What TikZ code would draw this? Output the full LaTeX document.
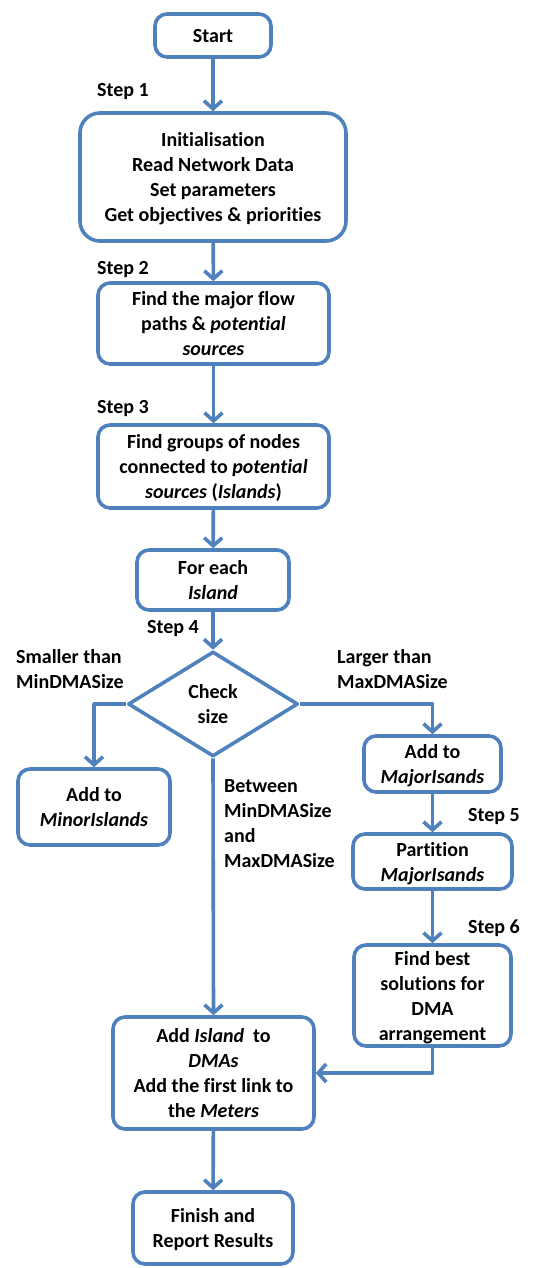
\documentclass[tikz,border=0pt]{standalone}
\usepackage{fontspec}
\setmainfont{Carlito}[Ligatures=NoCommon]
\usepackage{tikz}
\usetikzlibrary{arrows.meta,shapes.geometric}

\definecolor{flowblue}{RGB}{79,129,189}

\tikzset{
  box/.style={draw=flowblue,line width=3.6pt,rounded corners=12pt,fill=white,
    align=center,inner sep=0pt,text depth=0pt,font=\bfseries\fontsize{20}{25}\selectfont},
  bigbox/.style={box,rounded corners=20pt},
  decision/.style={draw=flowblue,line width=3.6pt,diamond,inner sep=0pt,
    minimum width=170pt,minimum height=105pt,align=center,text depth=0pt,
    font=\bfseries\fontsize{20}{25}\selectfont},
  lbl/.style={anchor=west,align=left,inner sep=0pt,
    font=\bfseries\fontsize{20}{25}\selectfont},
  flow/.style={draw=flowblue,line width=3.6pt,-{Straight Barb[length=8pt,width=18pt]}}
}

\begin{document}
\begin{tikzpicture}[x=1pt,y=-1pt,line join=round]
      \useasboundingbox (0,0) rectangle (544,1268);

      \node[box,minimum width=116,minimum height=43] (start) at (213,35.5) {Start};
      \node[bigbox,minimum width=266,minimum height=128] (init) at (213,177)
        {Initialisation\\Read Network Data\\Set parameters\\Get objectives \& priorities};
      \node[box,minimum width=231,minimum height=81] (paths) at (213.5,323.5)
        {Find the major flow\\paths \& \textit{potential}\\\textit{sources}};
      \node[box,minimum width=231,minimum height=83] (groups) at (213.5,466.5)
        {Find groups of nodes\\connected to \textit{potential}\\\textit{sources} (\textit{Islands})};
      \node[box,minimum width=152,minimum height=60] (each) at (213,580)
        {For each\\\textit{Island}};
      \node[decision] (check) at (213,704) {Check\\size};
      \node[box,minimum width=152,minimum height=76] (minor) at (94,807)
        {Add to\\\textit{MinorIslands}};
      \node[box,minimum width=137,minimum height=56] (major) at (432.5,764)
        {Add to\\\textit{MajorIsands}};
      \node[box,minimum width=159,minimum height=55] (part) at (432.5,861.5)
        {Partition\\\textit{MajorIsands}};
      \node[box,minimum width=157,minimum height=101] (best) at (432.5,995.5)
        {Find best\\solutions for\\DMA\\arrangement};
      \node[box,minimum width=201,minimum height=112] (dma) at (213.5,1073)
        {Add \textit{Island}\ \ to\\\textit{DMAs}\\Add the first link to\\the \textit{Meters}};
      \node[box,minimum width=160,minimum height=72] (finish) at (213,1228)
        {Finish and\\Report Results};

      % step labels
      \node[lbl] (s1) at (97,92) {Step 1};
      \node[lbl] (s2) at (97,270) {Step 2};
      \node[lbl] (s3) at (97,409) {Step 3};
      \node[lbl] (s4) at (147,629) {Step 4};
      \node[lbl] (s5) at (468,817) {Step 5};
      \node[lbl] (s6) at (468,928) {Step 6};

      \node[lbl] (small) at (16,669) {Smaller than\\MinDMASize};
      \node[lbl] (large) at (337,669) {Larger than\\MaxDMASize};
      \node[lbl] (between) at (224,824) {Between\\MinDMASize\\and\\MaxDMASize};

      \draw[flow] (start) -- (init);
      \draw[flow] (init) -- (paths);
      \draw[flow] (paths) -- (groups);
      \draw[flow] (groups) -- (each);
      \draw[flow] (each) -- (check);
      \draw[flow] (check.west) -| (minor.north);
      \draw[flow] (check.east) -| (major.north);
      \draw[flow] (major) -- (part);
      \draw[flow] (part) -- (best);
      \draw[flow] (check.south) -- (dma.north);
      \draw[flow] (best.south) |- (dma.east);
      \draw[flow] (dma) -- (finish);
    \end{tikzpicture}
\end{document}
